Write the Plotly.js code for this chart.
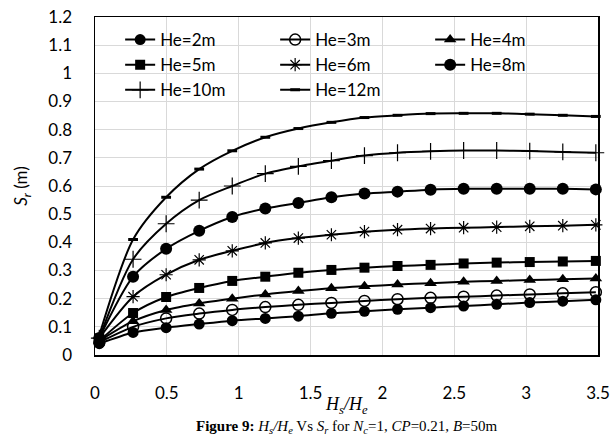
<!DOCTYPE html>
<html>
<head>
<meta charset="utf-8">
<script src="https://cdn.plot.ly/plotly-3.0.1.min.js"></script>
<style>html,body{margin:0;padding:0;background:#fff;}#chart{width:614px;height:437px;}</style>
</head>
<body>
<div id="chart"></div>
<script>
// Hs/He values (x axis)
const xRatio = [0.03, 0.265, 0.495, 0.725, 0.955, 1.185, 1.415, 1.645, 1.875, 2.105, 2.335, 2.565, 2.795, 3.025, 3.255, 3.485];
// Sr (m) for each He
const he2  = [0.04, 0.08, 0.097, 0.11, 0.122, 0.13, 0.138, 0.148, 0.155, 0.162, 0.168, 0.174, 0.18, 0.186, 0.191, 0.196];
const he3  = [0.045, 0.1, 0.13, 0.147, 0.16, 0.17, 0.178, 0.185, 0.192, 0.198, 0.203, 0.207, 0.211, 0.215, 0.219, 0.223];
const he4  = [0.05, 0.12, 0.16, 0.183, 0.2, 0.215, 0.227, 0.237, 0.244, 0.25, 0.255, 0.26, 0.263, 0.266, 0.269, 0.272];
const he5  = [0.05, 0.149, 0.206, 0.238, 0.263, 0.278, 0.292, 0.302, 0.31, 0.316, 0.32, 0.325, 0.328, 0.33, 0.332, 0.334];
const he6  = [0.06, 0.207, 0.285, 0.338, 0.37, 0.398, 0.415, 0.427, 0.438, 0.445, 0.449, 0.452, 0.454, 0.457, 0.459, 0.462];
const he8  = [0.06, 0.278, 0.377, 0.441, 0.49, 0.52, 0.54, 0.56, 0.573, 0.58, 0.587, 0.59, 0.59, 0.59, 0.59, 0.588];
const he10 = [0.06, 0.34, 0.466, 0.55, 0.60, 0.644, 0.67, 0.69, 0.708, 0.718, 0.723, 0.726, 0.726, 0.724, 0.721, 0.718];
const he12 = [0.07, 0.41, 0.56, 0.66, 0.725, 0.773, 0.804, 0.826, 0.843, 0.851, 0.857, 0.858, 0.858, 0.855, 0.851, 0.847];

const seriesNames = ["He=2m","He=3m","He=4m","He=5m","He=6m","He=8m","He=10m","He=12m"];
const seriesData = [he2, he3, he4, he5, he6, he8, he10, he12];
const markerStyles = [
  {symbol:"circle", size:11, color:"#000"},
  {symbol:"circle-open", size:11, color:"#000", line:{width:1.5,color:"#000"}},
  {symbol:"triangle-up", size:11, color:"#000"},
  {symbol:"square", size:10, color:"#000"},
  {symbol:"asterisk-open", size:11, color:"#000", line:{width:1.2,color:"#000"}},
  {symbol:"circle", size:12, color:"#000"},
  {symbol:"cross-thin-open", size:12, color:"#000", line:{width:1.2,color:"#000"}},
  {symbol:"line-ew-open", size:7, color:"#000", line:{width:3,color:"#000"}}
];

const traces = seriesNames.map((n,i)=>({
  type:"scatter", mode:"lines+markers", name:n,
  x:xRatio, y:seriesData[i],
  line:{color:"#000", width:2, shape:"spline", smoothing:0.8},
  marker:markerStyles[i],
  cliponaxis:false
}));

const serif = "'Liberation Serif', 'Times New Roman', serif";
const layout = {
  width:614, height:437,
  margin:{l:95, r:16, t:17, b:82},
  paper_bgcolor:"#fff", plot_bgcolor:"#fff",
  font:{family:"Lato, 'Open Sans', sans-serif", color:"#000", size:17},
  showlegend:true,
  legend:{orientation:"h", x:0.05, y:0.985, xanchor:"left", yanchor:"top",
          entrywidth:110, entrywidthmode:"pixels", bgcolor:"rgba(255,255,255,0)",
          font:{size:17, family:"Lato, sans-serif"}},
  xaxis:{range:[0,3.5], dtick:0.5, tick0:0, showgrid:true, gridcolor:"#d9d9d9", gridwidth:1,
         showline:true, linecolor:"#000", linewidth:1.5, mirror:true, zeroline:false,
         ticks:"", ticklabelstandoff:22, tickfont:{size:17}},
  yaxis:{range:[0,1.2], dtick:0.1, tick0:0, showgrid:true, gridcolor:"#d9d9d9", gridwidth:1,
         showline:true, linecolor:"#000", linewidth:1.5, mirror:true, zeroline:false,
         ticks:"", ticklabelstandoff:18, tickfont:{size:17},
         title:{text:"<i>S</i><sub><i>r</i></sub> (m)", font:{size:17}, standoff:16}},
  annotations:[
    {xref:"paper", yref:"paper", x:0.5, y:-0.148, xanchor:"center", yanchor:"middle", showarrow:false,
     text:"<i>H<sub>s</sub>/H<sub>e</sub></i>", font:{family:serif, size:18}},
    {xref:"paper", yref:"paper", x:0.5, y:-0.212, xanchor:"center", yanchor:"middle", showarrow:false,
     text:"<b>Figure 9:</b> <i>H<sub>s</sub>/H<sub>e</sub></i> Vs <i>S<sub>r</sub></i> for <i>N<sub>c</sub></i>=1, <i>CP</i>=0.21, <i>B</i>=50m",
     font:{family:serif, size:15}}
  ]
};

Plotly.newPlot("chart", traces, layout, {displayModeBar:false, staticPlot:true});
</script>
</body>
</html>
